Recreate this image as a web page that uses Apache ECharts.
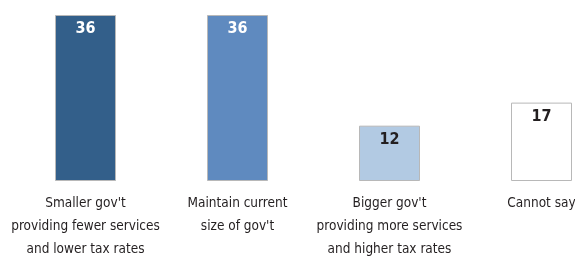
<!DOCTYPE html>
<html>
<head>
<meta charset="utf-8">
<script src="https://cdn.jsdelivr.net/npm/echarts@6/dist/echarts.min.js"></script>
<style>
  html, body { margin: 0; padding: 0; background: #fff; }
  #chart { width: 575px; height: 261px; }
</style>
</head>
<body>
<div id="chart"></div>
<script>
// categories (line breaks as in the original)
var categories = [
  "Smaller gov't\nproviding fewer services\nand lower tax rates",
  "Maintain current\nsize of gov't",
  "Bigger gov't\nproviding more services\nand higher tax rates",
  "Cannot say"
];
var values = [36, 36, 12, 17];
var barColors = ['#335f8a', '#5f8abf', '#b2cae3', '#ffffff'];
var labelColors = ['#ffffff', '#ffffff', '#231f20', '#231f20'];

var font = '"Liberation Sans Narrow", "Arial Narrow", "DejaVu Sans Condensed", sans-serif';

var chart = echarts.init(document.getElementById('chart'));

var seriesData = [];
for (var i = 0; i < values.length; i++) {
  seriesData.push({
    value: values[i],
    itemStyle: { color: barColors[i], borderColor: '#b8b8b8', borderWidth: 1 },
    label: { color: labelColors[i] }
  });
}

var option = {
  animation: false,
  grid: {
    left: 9.5, width: 608, top: 15, bottom: 80,
    containLabel: false,
    outerBoundsMode: 'none'
  },
  xAxis: {
    type: 'category',
    data: categories,
    axisLine: { show: false },
    axisTick: { show: false },
    axisLabel: {
      interval: 0,
      margin: 11,
      fontFamily: font,
      fontSize: 13.5,
      lineHeight: 23,
      color: '#231f20'
    }
  },
  yAxis: {
    type: 'value',
    min: 0,
    max: 36,
    show: false,
    splitLine: { show: false }
  },
  series: [{
    type: 'bar',
    barWidth: 61,
    data: seriesData,
    label: {
      show: true,
      position: 'insideTop',
      distance: 6,
      fontFamily: font,
      fontWeight: 'bold',
      fontSize: 16
    }
  }]
};

chart.setOption(option);
</script>
</body>
</html>
